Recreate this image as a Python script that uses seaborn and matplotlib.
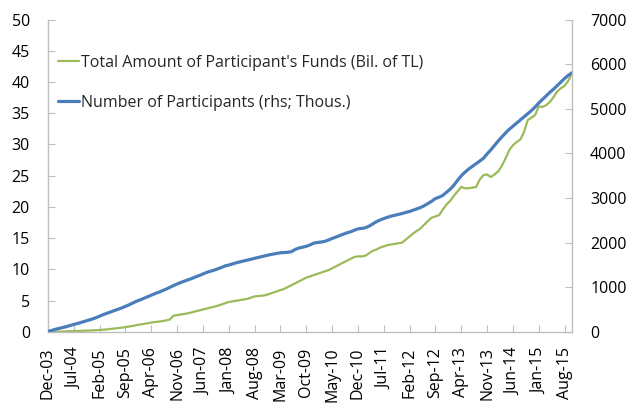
import numpy as np
import pandas as pd
import seaborn as sns
import matplotlib
matplotlib.use("Agg")
import matplotlib.pyplot as plt

# monthly, Dec-03 .. Oct-15
funds = [0.0,
         0.02, 0.04, 0.06, 0.08, 0.1, 0.12, 0.14, 0.16, 0.18, 0.2, 0.22, 0.25,
         0.28, 0.32, 0.36, 0.42, 0.48, 0.55, 0.62, 0.7, 0.78, 0.88, 0.98, 1.1,
         1.2, 1.3, 1.4, 1.5, 1.6, 1.65, 1.75, 1.85, 2.0, 2.6, 2.7, 2.8,
         2.9, 3.0, 3.15, 3.3, 3.45, 3.6, 3.75, 3.9, 4.05, 4.2, 4.4, 4.6,
         4.8, 4.9, 5.0, 5.1, 5.2, 5.3, 5.5, 5.7, 5.75, 5.8, 5.9, 6.1,
         6.3, 6.5, 6.7, 6.9, 7.2, 7.5, 7.8, 8.1, 8.4, 8.7, 8.9, 9.1,
         9.3, 9.5, 9.7, 9.9, 10.2, 10.5, 10.8, 11.1, 11.4, 11.7, 12.0, 12.1,
         12.1, 12.2, 12.6, 13.0, 13.2, 13.5, 13.7, 13.9, 14.0, 14.1, 14.2, 14.3,
         14.8, 15.3, 15.8, 16.2, 16.6, 17.2, 17.8, 18.3, 18.5, 18.7, 19.6, 20.4,
         21.0, 21.8, 22.5, 23.2, 23.0, 23.0, 23.1, 23.2, 24.4, 25.1, 25.2, 24.8,
         25.2, 25.7, 26.6, 27.8, 29.1, 29.9, 30.4, 30.8, 32.0, 33.9, 34.3, 34.7,
         36.1, 36.0, 36.3, 36.8, 37.6, 38.5, 39.0, 39.4, 40.2, 41.4]

participants = [10,
                35, 60, 80, 100, 120, 145, 170, 190, 215, 240, 265, 290,
                320, 355, 390, 420, 450, 480, 510, 540, 575, 610, 650, 690,
                720, 755, 790, 825, 860, 890, 925, 960, 1000, 1040, 1075, 1110,
                1140, 1170, 1200, 1235, 1265, 1300, 1335, 1360, 1385, 1415, 1445, 1480,
                1500, 1525, 1550, 1570, 1590, 1610, 1630, 1650, 1670, 1690, 1710, 1730,
                1745, 1760, 1775, 1780, 1785, 1800, 1850, 1880, 1900, 1920, 1950, 1990,
                2005, 2015, 2030, 2060, 2095, 2125, 2160, 2190, 2220, 2245, 2280, 2310,
                2320, 2335, 2370, 2420, 2470, 2510, 2540, 2570, 2595, 2615, 2635, 2655,
                2680, 2700, 2730, 2760, 2790, 2830, 2880, 2930, 2990, 3020, 3060, 3130,
                3200, 3290, 3400, 3500, 3580, 3650, 3710, 3770, 3830, 3890, 3990, 4080,
                4180, 4280, 4370, 4460, 4540, 4610, 4680, 4750, 4820, 4890, 4960, 5040,
                5130, 5210, 5290, 5370, 5440, 5520, 5600, 5680, 5750, 5810]

tick_labels = ["Dec-03", "Jul-04", "Feb-05", "Sep-05", "Apr-06", "Nov-06", "Jun-07",
               "Jan-08", "Aug-08", "Mar-09", "Oct-09", "May-10", "Dec-10", "Jul-11",
               "Feb-12", "Sep-12", "Apr-13", "Nov-13", "Jun-14", "Jan-15", "Aug-15"]

df = pd.DataFrame({"month": np.arange(len(funds)), "funds": funds,
                   "participants": participants})

sns.set_style("white")
plt.rcParams["font.family"] = ["Open Sans", "DejaVu Sans"]

GREEN = "#9BBB59"
BLUE = "#4A7EBB"
GREY = "#BFBFBF"

fig = plt.figure(figsize=(6.29, 4.03), dpi=100)
ax = fig.add_axes([0.0763, 0.1762, 0.8331, 0.7754])
ax2 = ax.twinx()

sns.lineplot(data=df, x="month", y="funds", ax=ax, color=GREEN, linewidth=1.6,
             label="Total Amount of Participant's Funds (Bil. of TL)", legend=False)
sns.lineplot(data=df, x="month", y="participants", ax=ax2, color=BLUE, linewidth=2.3,
             label="Number of Participants (rhs; Thous.)", legend=False)

ax.set_xlim(0, len(funds) - 1)
ax.set_ylim(0, 50)
ax2.set_ylim(0, 7000)
ax.set_yticks(np.arange(0, 51, 5))
ax2.set_yticks(np.arange(0, 7001, 1000))
ax.set_xticks(np.arange(0, len(funds), 7))
ax.set_xticklabels(tick_labels, rotation=90)
ax.set_xlabel("")
ax.set_ylabel("")
ax2.set_ylabel("")

for a in (ax, ax2):
    for s in a.spines.values():
        s.set_color(GREY)
        s.set_linewidth(1.0)
    a.spines["top"].set_visible(False)
ax.spines["right"].set_visible(False)
ax2.spines["left"].set_visible(False)
ax2.spines["bottom"].set_visible(False)

ax.tick_params(axis="y", direction="in", length=5, color=GREY, pad=13,
               labelsize=11.5, labelcolor="#000000", left=True)
ax.tick_params(axis="x", direction="in", length=5, color=GREY, pad=11,
               labelsize=11.5, labelcolor="#000000", bottom=True)
ax2.tick_params(axis="y", direction="in", length=5, color=GREY, pad=13,
                labelsize=11.5, labelcolor="#000000", right=True)

h1, l1 = ax.get_legend_handles_labels()
h2, l2 = ax2.get_legend_handles_labels()
ax.legend(h1 + h2, l1 + l2, loc="center left", bbox_to_anchor=(0.019, 0.798),
          frameon=False, fontsize=11.5, handlelength=1.3, handletextpad=0.15,
          labelspacing=1.5, borderpad=0, borderaxespad=0)

fig.savefig("out.png", dpi=100)
